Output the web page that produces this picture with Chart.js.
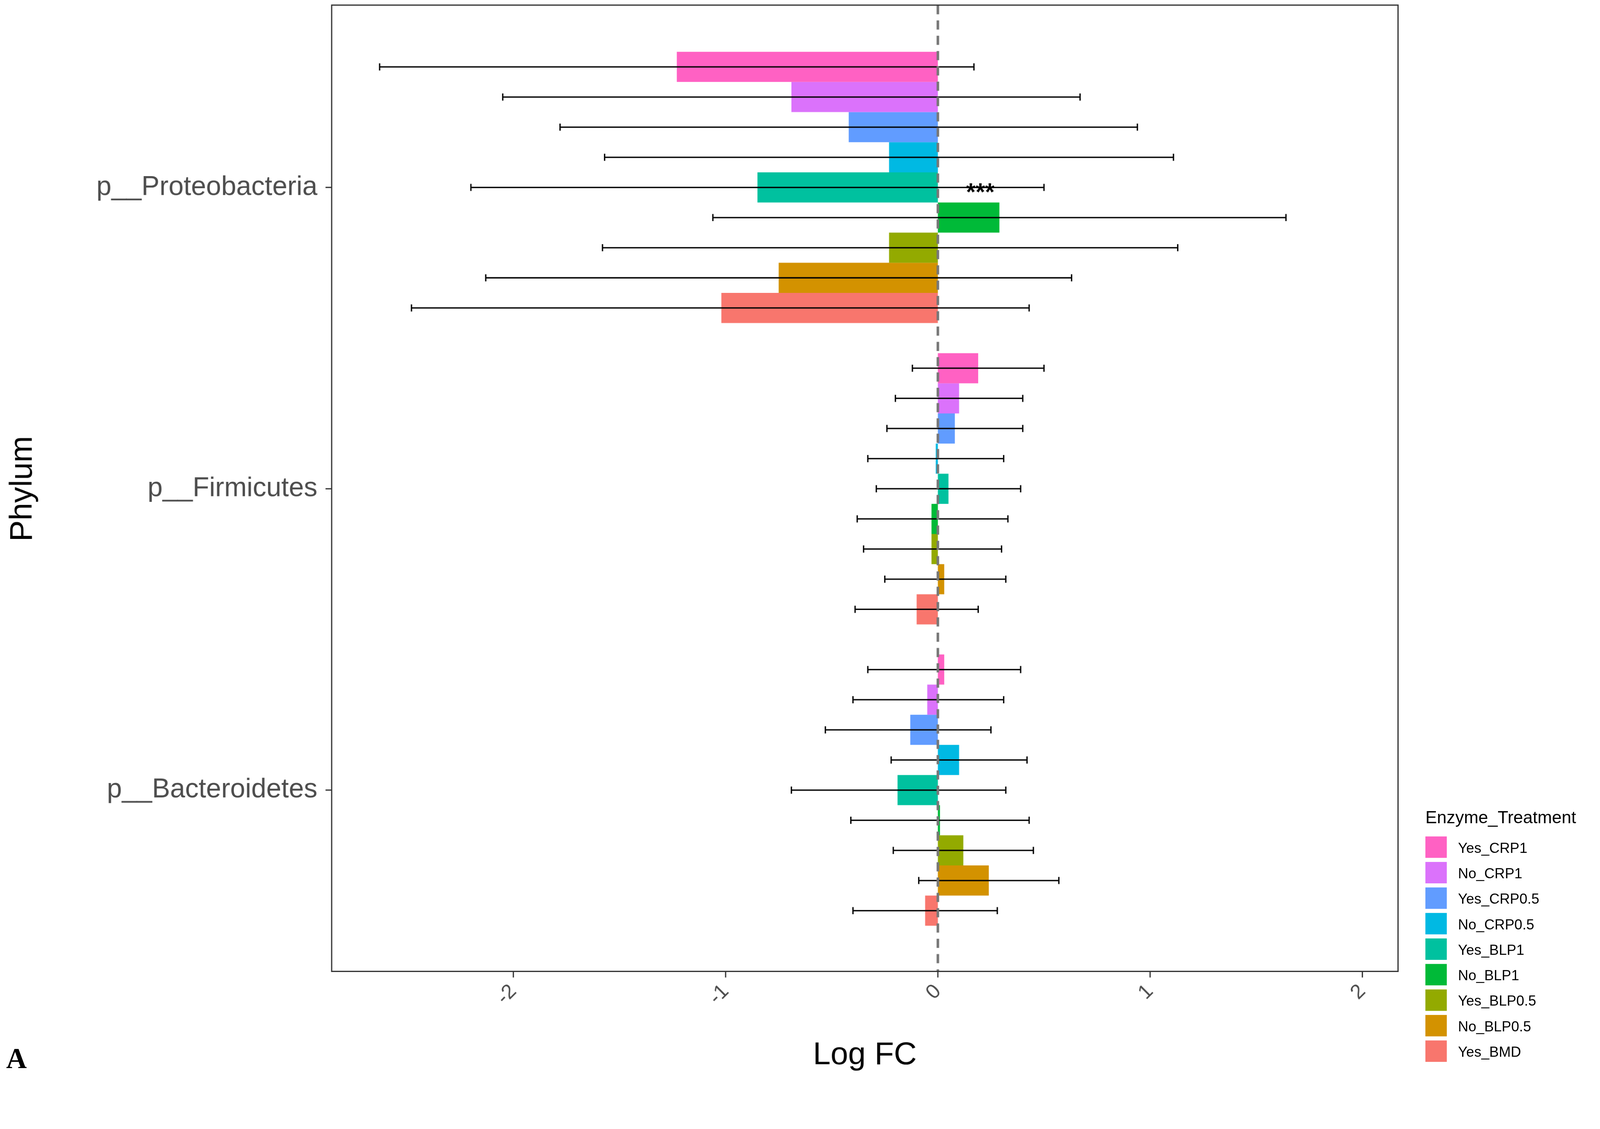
<!DOCTYPE html>
<html><head><meta charset="utf-8">
<script src="https://cdn.jsdelivr.net/npm/chart.js@4"></script>
<style>
body{margin:0;background:#fff;overflow:hidden;}
#wrap{position:absolute;left:0;top:0;width:1568px;height:1057px;transform:scale(2.612);transform-origin:0 0;font-family:"Liberation Sans",Arial,sans-serif;}
#legend{position:absolute;left:1397px;top:792px;font-size:14px;color:#000;}
#legend .t{font-size:17px;margin-bottom:6px;}
#legend .r{height:25px;display:flex;align-items:center;}
#legend .b{width:21px;height:21px;margin-right:11px;}
#lab{position:absolute;left:6px;top:1022px;font:bold 28px "Liberation Serif",serif;}
</style></head><body>
<div id="wrap"><canvas id="c" width="1568" height="1057"></canvas><div id="legend"></div><div id="lab">A</div></div>
<script>
const phyla = ["p__Proteobacteria", "p__Firmicutes", "p__Bacteroidetes"];
const groups = ["Yes_CRP1", "No_CRP1", "Yes_CRP0.5", "No_CRP0.5", "Yes_BLP1", "No_BLP1", "Yes_BLP0.5", "No_BLP0.5", "Yes_BMD"];
const colors = ["#FF61C3", "#DB72FB", "#619CFF", "#00B9E3", "#00C19F", "#00BA38", "#93AA00", "#D39200", "#F8766D"];
// values per group: [Proteobacteria, Firmicutes, Bacteroidetes]
const logFC = [
  [-1.23, 0.19, 0.03], [-0.69, 0.10, -0.05], [-0.42, 0.08, -0.13], [-0.23, -0.01, 0.10],
  [-0.85, 0.05, -0.19], [0.29, -0.03, 0.01], [-0.23, -0.03, 0.12], [-0.75, 0.03, 0.24], [-1.02, -0.10, -0.06]
];
const errLow = [
  [-2.63, -0.12, -0.33], [-2.05, -0.20, -0.40], [-1.78, -0.24, -0.53], [-1.57, -0.33, -0.22],
  [-2.20, -0.29, -0.69], [-1.06, -0.38, -0.41], [-1.58, -0.35, -0.21], [-2.13, -0.25, -0.09], [-2.48, -0.39, -0.40]
];
const errHigh = [
  [0.17, 0.50, 0.39], [0.67, 0.40, 0.31], [0.94, 0.40, 0.25], [1.11, 0.31, 0.42],
  [0.50, 0.39, 0.32], [1.64, 0.33, 0.43], [1.13, 0.30, 0.45], [0.63, 0.32, 0.57], [0.43, 0.19, 0.28]
];
const xTicks = [-2, -1, 0, 1, 2];
const stars = { group: 4, phylum: 0, x: 0.2, text: "***" };

const overlay = {
  id: "overlay",
  afterDatasetsDraw(chart) {
    const ctx = chart.ctx, xs = chart.scales.x, a = chart.chartArea;
    const top = 5, bottom = 952;
    ctx.save();
    // error bars
    ctx.strokeStyle = "#000"; ctx.lineWidth = 1.3;
    groups.forEach((g, i) => {
      const meta = chart.getDatasetMeta(i);
      meta.data.forEach((bar, j) => {
        const x1 = xs.getPixelForValue(errLow[i][j]), x2 = xs.getPixelForValue(errHigh[i][j]);
        ctx.beginPath();
        ctx.moveTo(x1, bar.y); ctx.lineTo(x2, bar.y);
        ctx.moveTo(x1, bar.y - 3.5); ctx.lineTo(x1, bar.y + 3.5);
        ctx.moveTo(x2, bar.y - 3.5); ctx.lineTo(x2, bar.y + 3.5);
        ctx.stroke();
      });
    });
    // zero line
    const x0 = xs.getPixelForValue(0);
    ctx.strokeStyle = "#777"; ctx.lineWidth = 2.5; ctx.setLineDash([9, 6]);
    ctx.beginPath(); ctx.moveTo(x0, top); ctx.lineTo(x0, bottom); ctx.stroke();
    ctx.setLineDash([]);
    // frame
    ctx.strokeStyle = "#333"; ctx.lineWidth = 1.2;
    ctx.strokeRect(a.left, top, a.right - a.left, bottom - top);
    // ticks
    ctx.beginPath();
    xTicks.forEach(v => { const p = xs.getPixelForValue(v); ctx.moveTo(p, bottom); ctx.lineTo(p, bottom + 6); });
    phyla.forEach((p, j) => { const y = chart.scales.y.getPixelForValue(j); ctx.moveTo(a.left, y); ctx.lineTo(a.left - 6, y); });
    ctx.stroke();
    // significance
    const sb = chart.getDatasetMeta(stars.group).data[stars.phylum];
    ctx.fillStyle = "#000"; ctx.font = "bold 24px 'Liberation Sans'";
    ctx.textAlign = "center"; ctx.textBaseline = "middle";
    ctx.fillText(stars.text, xs.getPixelForValue(stars.x), sb.y + 6);
    ctx.restore();
  }
};

new Chart(document.getElementById("c"), {
  type: "bar",
  data: {
    labels: phyla,
    datasets: groups.map((g, i) => ({ label: g, data: logFC[i], backgroundColor: colors[i] }))
  },
  options: {
    indexAxis: "y", responsive: false, animation: false, devicePixelRatio: 2.7,
    layout: { padding: { top: 36, right: 198, bottom: 0, left: 0 } },
    datasets: { bar: { categoryPercentage: 0.9, barPercentage: 1 } },
    plugins: { legend: { display: false }, tooltip: { enabled: false } },
    scales: {
      x: {
        min: -2.856, max: 2.168,
        afterBuildTicks: s => { s.ticks = xTicks.map(v => ({ value: v })); },
        afterFit: s => { s.height = 135; },
        grid: { display: false, drawTicks: false },
        border: { display: false },
        ticks: { padding: 38, minRotation: 45, maxRotation: 45, color: "#4d4d4d", font: { size: 20, family: "Liberation Sans" } },
        title: { display: true, text: "Log FC", color: "#000", font: { size: 31, family: "Liberation Sans" }, padding: { top: 0 } }
      },
      y: {
        afterFit: s => { s.width = 325; },
        grid: { display: false, drawTicks: false },
        border: { display: false },
        ticks: { padding: 14, color: "#4d4d4d", font: { size: 26.5, family: "Liberation Sans" } },
        title: { display: true, text: "Phylum", color: "#000", font: { size: 31, family: "Liberation Sans" }, padding: { bottom: 0 } }
      }
    }
  },
  plugins: [overlay]
});

const lg = document.getElementById("legend");
lg.innerHTML = '<div class="t">Enzyme_Treatment</div>' +
  groups.map((g, i) => `<div class="r"><div class="b" style="background:${colors[i]}"></div>${g}</div>`).join("");
</script>
</body></html>
